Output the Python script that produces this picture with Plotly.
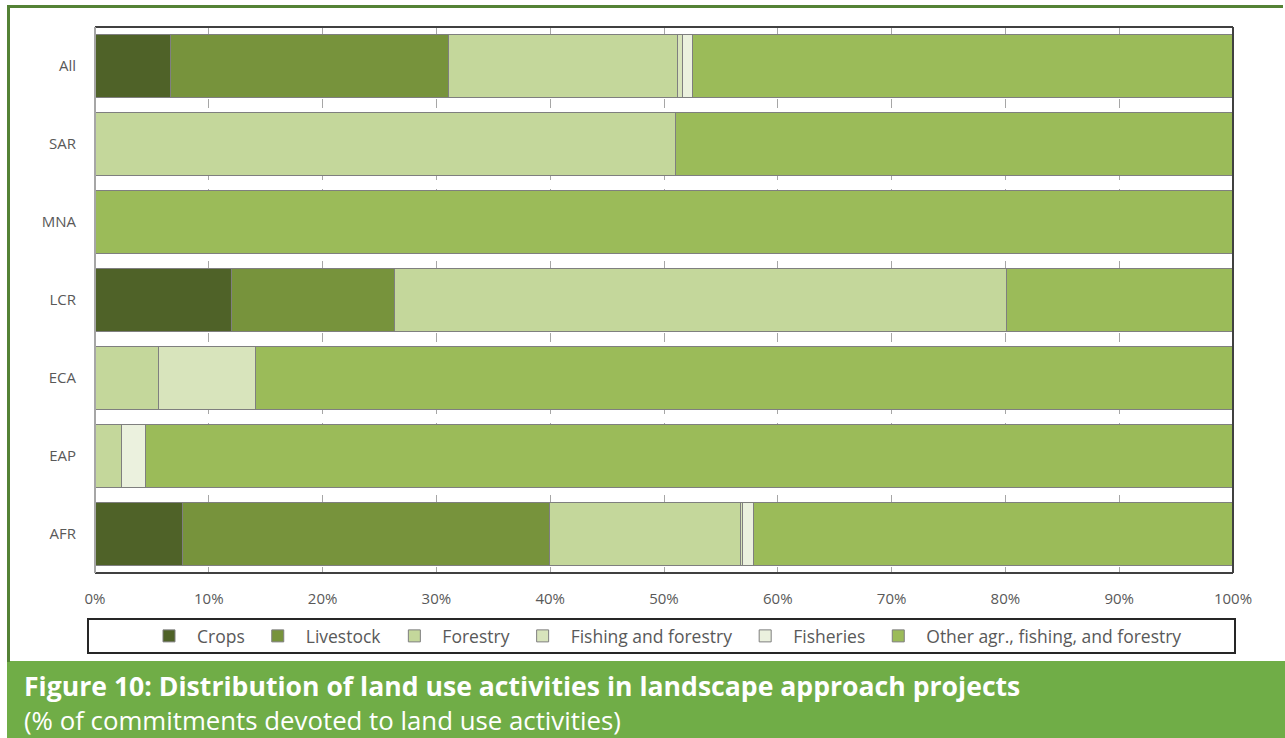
import plotly.graph_objects as go

# Regions (bottom to top on the chart) and share of commitments (%) per activity
regions = ["AFR", "EAP", "ECA", "LCR", "MNA", "SAR", "All"]
crops = [7.7, None, None, 12.0, None, None, 6.6]
livestock = [32.2, None, None, 14.3, None, None, 24.5]
forestry = [16.8, 2.3, 5.6, 53.8, None, 51.0, 20.1]
fishing_and_forestry = [0.2, None, 8.5, None, None, None, 0.4]
fisheries = [1.0, 2.1, None, None, None, None, 0.9]
other = [42.1, 95.6, 85.9, 19.9, 100.0, 49.0, 47.5]

series = [
    ("Crops", crops, "#4F6228"),
    ("Livestock", livestock, "#77933C"),
    ("Forestry", forestry, "#C4D79B"),
    ("Fishing and forestry", fishing_and_forestry, "#D8E4BC"),
    ("Fisheries", fisheries, "#EBF1DE"),
    ("Other agr., fishing, and forestry", other, "#9BBB59"),
]

x_ticks = list(range(0, 101, 10))

W, H = 1285, 738
FONT = "Open Sans"
GREY_TXT = "#595959"


def px(x):
    return x / W


def py(y):
    return 1 - y / H


fig = go.Figure()
for name, vals, color in series:
    fig.add_trace(go.Bar(
        y=regions, x=vals, name=name, orientation="h",
        marker=dict(color=color, line=dict(color="#7F7F7F", width=1)),
        hoverinfo="skip",
    ))

shapes = [
    # outer frame: top and left rules
    dict(type="rect", xref="paper", yref="paper", x0=px(7), x1=px(1283), y0=py(8), y1=py(5),
         fillcolor="#548235", line_width=0, layer="above"),
    dict(type="rect", xref="paper", yref="paper", x0=px(7), x1=px(10), y0=py(662), y1=py(5),
         fillcolor="#548235", line_width=0, layer="above"),
    # caption band
    dict(type="rect", xref="paper", yref="paper", x0=px(7), x1=1, y0=0, y1=py(661),
         fillcolor="#70AD47", line_width=0, layer="below"),
    # legend box
    dict(type="rect", xref="paper", yref="paper", x0=px(88), x1=px(1235), y0=py(653), y1=py(619),
         fillcolor="rgba(0,0,0,0)", line=dict(color="#262626", width=2)),
    # plot area border
    dict(type="line", xref="x domain", yref="y domain", x0=0, x1=1, y0=1, y1=1,
         line=dict(color="#404040", width=2), layer="above"),
    dict(type="line", xref="x domain", yref="y domain", x0=0, x1=1, y0=0, y1=0,
         line=dict(color="#404040", width=2), layer="above"),
    dict(type="line", xref="x domain", yref="y domain", x0=1, x1=1, y0=0, y1=1,
         line=dict(color="#404040", width=2), layer="above"),
    dict(type="line", xref="x domain", yref="y domain", x0=0, x1=0, y0=0, y1=1,
         line=dict(color="#A6A6A6", width=2), layer="above"),
]

annotations = [
    dict(text="<b>Figure 10: Distribution of land use activities in landscape approach projects</b>",
         xref="paper", yref="paper", x=px(22), y=py(686), xanchor="left", yanchor="middle",
         showarrow=False, font=dict(family=FONT, size=26.6, color="white")),
    dict(text="(% of commitments devoted to land use activities)",
         xref="paper", yref="paper", x=px(22), y=py(720), xanchor="left", yanchor="middle",
         showarrow=False, font=dict(family=FONT, size=25.8, color="white")),
]

fig.update_layout(
    width=W, height=H,
    margin=dict(l=0, r=0, t=0, b=0, autoexpand=False),
    paper_bgcolor="white", plot_bgcolor="white",
    barmode="stack", bargap=0.18,
    font=dict(family=FONT, size=15, color=GREY_TXT),
    shapes=shapes, annotations=annotations,
    legend=dict(orientation="h", xref="container", yref="container",
                x=px(664), xanchor="center", y=py(636), yanchor="middle",
                font=dict(family=FONT, size=17.5, color=GREY_TXT), traceorder="normal",
                itemwidth=46, bgcolor="rgba(0,0,0,0)",
                itemclick=False, itemdoubleclick=False),
    xaxis=dict(domain=[px(95), px(1233)], range=[0, 100], tickvals=x_ticks,
               ticktext=[f"{v}%" for v in x_ticks], showgrid=True, griddash="dash",
               gridcolor="#A6A6A6", gridwidth=1, zeroline=False, showline=False,
               ticks="", ticklabelstandoff=15, automargin=False, fixedrange=True),
    yaxis=dict(domain=[py(573), py(27)], categoryorder="array", categoryarray=regions,
               showgrid=False, zeroline=False, showline=False, ticks="",
               ticklabelstandoff=18, automargin=False, fixedrange=True),
)

fig.write_html("out.html")
